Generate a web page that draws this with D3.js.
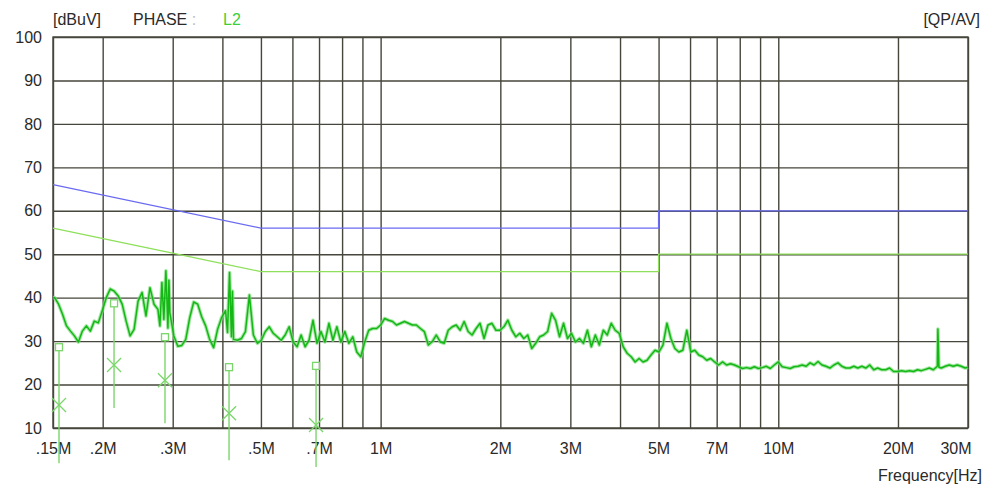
<!DOCTYPE html>
<html>
<head>
<meta charset="utf-8">
<script src="https://cdnjs.cloudflare.com/ajax/libs/d3/7.8.5/d3.min.js"></script>
<style>
body { margin: 0; background: #fff; }
svg text { font-family: "Liberation Sans", Arial, sans-serif; font-size: 16px; fill: #2a2a2a; }
</style>
</head>
<body>
<svg id="chart" width="991" height="491"></svg>
<script>
// frequency grid (MHz) and labelled ticks
var gridFreqs = [0.15, 0.2, 0.3, 0.4, 0.5, 0.6, 0.7, 0.8, 0.9, 1, 2, 3, 4, 5, 6, 7, 8, 9, 10, 20, 30];
var tickFreqs = [0.15, 0.2, 0.3, 0.5, 0.7, 1, 2, 3, 5, 7, 10, 20, 30];
var tickLabels = ['.15M', '.2M', '.3M', '.5M', '.7M', '1M', '2M', '3M', '5M', '7M', '10M', '20M', '30M'];
var levelTicks = [10, 20, 30, 40, 50, 60, 70, 80, 90, 100];

// limit lines (dBuV)
var limitFreq = [0.15, 0.5, 5, 5, 30];
var qpLimit = [66, 56, 56, 60, 60];
var avLimit = [56, 46, 46, 50, 50];

// final measurement markers
var markerFreq = [0.1553, 0.2136, 0.2869, 0.4157, 0.688];
var markerQp = [28.6, 38.7, 30.9, 24.0, 24.3];
var markerAv = [15.3, 24.5, 21.0, 13.4, 10.7];
var markerFoot = [1.9, 14.6, 11.1, 2.6, 1.0];

// pre-scan trace
var traceFreq = [
  0.15, 0.1514, 0.1549, 0.1585, 0.1622, 0.1660, 0.1698, 0.1738, 0.1778, 0.1820, 0.1862, 0.1905, 0.1950, 0.1995,
  0.2042, 0.2089, 0.2138, 0.2188, 0.2239, 0.2291, 0.2344, 0.2399, 0.2455, 0.2512, 0.2570, 0.2630, 0.2692, 0.2754,
  0.2786, 0.2818, 0.2850, 0.2884, 0.2918, 0.2935, 0.2951, 0.3020, 0.3090, 0.3162, 0.3236, 0.3311, 0.3388, 0.3467,
  0.3548, 0.3631, 0.3715, 0.3802, 0.3890, 0.3981, 0.4074, 0.4120, 0.4169, 0.4215, 0.4240, 0.4266, 0.4365,
  0.4467, 0.4571, 0.4677, 0.4786, 0.4898, 0.5012, 0.5129, 0.5248, 0.5370, 0.5495, 0.5623, 0.5754, 0.5888, 0.6026,
  0.6166, 0.6310, 0.6457, 0.6607, 0.6761, 0.6918, 0.7079, 0.7244, 0.7413, 0.7586, 0.7762, 0.7943, 0.8128, 0.8318,
  0.8511, 0.8710, 0.8913, 0.9120, 0.9333, 0.9550, 0.9772,
  1.000, 1.023, 1.047, 1.072, 1.096, 1.122, 1.148, 1.175, 1.202, 1.230, 1.259, 1.288, 1.318, 1.349,
  1.380, 1.413, 1.445, 1.479, 1.514, 1.549, 1.585, 1.622, 1.660, 1.698, 1.738, 1.778, 1.820, 1.862, 1.905, 1.950,
  1.995, 2.042, 2.089, 2.138, 2.188, 2.239, 2.291, 2.344, 2.399, 2.455, 2.512, 2.570, 2.630, 2.692, 2.754, 2.818,
  2.884, 2.951, 3.020, 3.090, 3.162, 3.236, 3.311, 3.388, 3.467, 3.548, 3.631, 3.715, 3.802, 3.890, 3.981, 4.074,
  4.169, 4.266, 4.365, 4.467, 4.571, 4.677, 4.786, 4.898, 5.012, 5.129, 5.248, 5.370, 5.495, 5.623, 5.754, 5.888,
  6.026, 6.166, 6.310, 6.457, 6.607, 6.761, 6.918, 7.079, 7.244, 7.413, 7.586, 7.762, 7.943, 8.128, 8.318, 8.511,
  8.710, 8.913, 9.120, 9.333, 9.550, 9.772,
  10.00, 10.23, 10.47, 10.72, 10.96, 11.22, 11.48, 11.75, 12.02, 12.30, 12.59, 12.88, 13.18, 13.49, 13.80, 14.13,
  14.45, 14.79, 15.14, 15.49, 15.85, 16.22, 16.60, 16.98, 17.38, 17.78, 18.20, 18.62, 19.05, 19.50, 19.95, 20.42,
  20.89, 21.38, 21.88, 22.39, 22.91, 23.44, 23.99, 24.55, 25.12, 25.20, 25.35, 25.70, 26.30, 26.92, 27.54, 28.18,
  28.84, 29.51, 30.0
];
var traceDb = [
  40, 40, 38.5, 36.2, 33.5, 32.3, 31.2, 29.8, 32.3, 33.5, 32.3, 34.6, 34.2, 37,
  40, 42, 41.5, 40.4, 38.5, 34.6, 31.2, 32.7, 39.2, 41.2, 35.8, 42.3, 38.5, 37.3,
  33.5, 43.5, 35.0, 46.2, 33.0, 44.0, 36.5, 31.2, 28.8, 29, 30.4, 35.4, 39, 38.5,
  35.6, 33.5, 30.4, 28.5, 32.7, 35.4, 37, 32, 45.8, 31, 41.5, 30.4, 30.2,
  30.6, 32.2, 40.6, 31.4, 29.5, 30.2, 32.2, 33.3, 31.8, 31, 30.2, 31.4, 33.3, 29.8,
  28.7, 31.4, 28.7, 30.2, 34.8, 29.5, 32.2, 29.8, 34.1, 30.2, 33.3, 29.8, 32.2, 29.5,
  31, 27.5, 26.4, 29.8, 32.5, 32.9, 32.9,
  33.7, 35.2, 34.8, 34.5, 33.7, 34.1, 34.5, 34.1, 33.7, 33.7, 32.9, 32.2, 29.1, 29.9,
  31.4, 29.8, 29.5, 32.5, 33.3, 33.7, 32.5, 34.5, 32.2, 31.4, 32.9, 34.1, 30.6, 33.7, 34.1, 32.5,
  32.5, 33.3, 34.8, 32.5, 31, 31.8, 30.6, 31.4, 28.3, 29.5, 31, 31.4, 32.2, 36.4, 34.8, 31,
  34.1, 30.6, 31.8, 29.8, 30.6, 29.5, 32.5, 28.7, 31.4, 29.1, 32.5, 31.4, 34.1, 32.5, 31.8, 28.7,
  27.2, 26.4, 25.2, 26, 25.2, 25.6, 26.8, 27.9, 27.5, 29.1, 34.1, 30.6, 28.3, 27.5, 27.9, 32.5,
  27.5, 27.9, 26.8, 26.4, 25.6, 26, 25.2, 24.5, 25.2, 24.5, 24.8, 24.5, 24.1, 23.7, 23.9, 23.7,
  24.1, 23.7, 23.9, 24.2, 23.7, 24.5,
  25.2, 24.1, 23.9, 23.7, 24.1, 24.2, 24.5, 24.2, 25, 24.5, 25.3, 24.5, 24.2, 23.8, 24.5, 25,
  24.2, 23.8, 23.8, 24.2, 23.8, 24.2, 23.8, 24.5, 23.4, 23.8, 23.4, 23.4, 23.8, 23, 23, 23.2,
  23, 23.2, 23, 23.4, 23.2, 23.5, 23.8, 23.4, 24.2, 32.8, 24.0, 23.8, 24.2, 24.5, 24.2, 24.5,
  24.2, 23.8, 24.0
];

var margin = {top: 37, right: 23, bottom: 63, left: 53};
var w = 991 - margin.left - margin.right;
var h = 491 - margin.top - margin.bottom;
var gridColor = '#46463c';

var svg = d3.select('#chart');
var g = svg.append('g')
    .attr('transform', 'translate(' + margin.left + ',' + margin.top + ')');

var x = d3.scaleLog().domain([0.15, 30]).range([0, w]);
var y = d3.scaleLinear().domain([10, 100]).range([h, 0]);

// vertical grid
var xGrid = g.append('g')
    .attr('transform', 'translate(0,' + h + ')')
    .call(d3.axisBottom(x).tickValues(gridFreqs).tickSize(-h).tickFormat(''));
xGrid.select('.domain').remove();
xGrid.selectAll('line').attr('stroke', gridColor).attr('stroke-width', 1.4);

// horizontal grid + level labels
var yAxis = g.append('g')
    .call(d3.axisLeft(y).tickValues(levelTicks).tickSize(-w).tickPadding(11));
yAxis.select('.domain').remove();
yAxis.selectAll('line').attr('stroke', gridColor).attr('stroke-width', 1.4);
yAxis.selectAll('text').style('font-size', '16px');

// frequency labels
var xAxis = g.append('g')
    .attr('transform', 'translate(0,' + h + ')')
    .call(d3.axisBottom(x).tickValues(tickFreqs).tickSize(0).tickPadding(15)
        .tickFormat(function(d, i) { return tickLabels[i]; }));
xAxis.select('.domain').remove();
xAxis.selectAll('text').style('font-size', '16px');
xAxis.selectAll('text').filter(function(d) { return d === 30; })
    .attr('text-anchor', 'end').attr('x', 3);

g.append('rect')
    .attr('width', w).attr('height', h)
    .attr('fill', 'none').attr('stroke', gridColor).attr('stroke-width', 1.4);

// limit lines
var limitLine = d3.line()
    .x(function(d) { return x(d[0]); })
    .y(function(d) { return y(d[1]); });

g.append('path')
    .datum(d3.zip(limitFreq, qpLimit))
    .attr('fill', 'none').attr('stroke', '#6a6af2').attr('stroke-width', 1.3)
    .attr('d', limitLine);
g.append('path')
    .datum(d3.zip(limitFreq, avLimit))
    .attr('fill', 'none').attr('stroke', '#8ee05a').attr('stroke-width', 1.3)
    .attr('d', limitLine);

// trace: soft halo under the sharp line, like the noisy scan band
var traceData = d3.zip(traceFreq, traceDb);
g.append('path')
    .datum(traceData)
    .attr('fill', 'none').attr('stroke', '#7fdc7f').attr('stroke-width', 3.6)
    .attr('stroke-opacity', 0.7).attr('stroke-linejoin', 'round')
    .attr('d', limitLine);
g.append('path')
    .datum(traceData)
    .attr('fill', 'none').attr('stroke', '#14b814').attr('stroke-width', 1.5)
    .attr('stroke-linejoin', 'round')
    .attr('d', limitLine);

// markers
var mk = d3.zip(markerFreq, markerQp, markerAv, markerFoot);
var mColor = '#7ad66a';
var mg = svg.append('g')
    .attr('transform', 'translate(' + margin.left + ',' + margin.top + ')');

mg.selectAll('line.stem').data(mk).enter().append('line')
    .attr('class', 'stem')
    .attr('x1', function(d) { return x(d[0]); })
    .attr('x2', function(d) { return x(d[0]); })
    .attr('y1', function(d) { return y(d[1]) + 3.5; })
    .attr('y2', function(d) { return y(d[3]); })
    .attr('stroke', mColor).attr('stroke-width', 1.4);

mg.selectAll('rect.qp').data(mk).enter().append('rect')
    .attr('class', 'qp')
    .attr('x', function(d) { return x(d[0]) - 3.5; })
    .attr('y', function(d) { return y(d[1]) - 3.5; })
    .attr('width', 7).attr('height', 7)
    .attr('fill', 'none').attr('stroke', mColor).attr('stroke-width', 1.3);

mg.selectAll('path.av').data(mk).enter().append('path')
    .attr('class', 'av')
    .attr('transform', function(d) { return 'translate(' + x(d[0]) + ',' + y(d[2]) + ')'; })
    .attr('d', d3.symbol().type(d3.symbolX).size(130))
    .attr('fill', 'none').attr('stroke', mColor).attr('stroke-width', 1.3);

// header texts
svg.append('text').attr('x', 53).attr('y', 25).text('[dBuV]');
var ph = svg.append('text').attr('x', 133).attr('y', 25);
ph.append('tspan').text('PHASE ');
ph.append('tspan').style('fill', '#bbb').text(':');
svg.append('text').attr('x', 223).attr('y', 25).style('fill', '#3ccf3c').text('L2');
svg.append('text').attr('x', 980).attr('y', 25).attr('text-anchor', 'end').text('[QP/AV]');
svg.append('text').attr('x', 982).attr('y', 481).attr('text-anchor', 'end').text('Frequency[Hz]');
</script>
</body>
</html>
